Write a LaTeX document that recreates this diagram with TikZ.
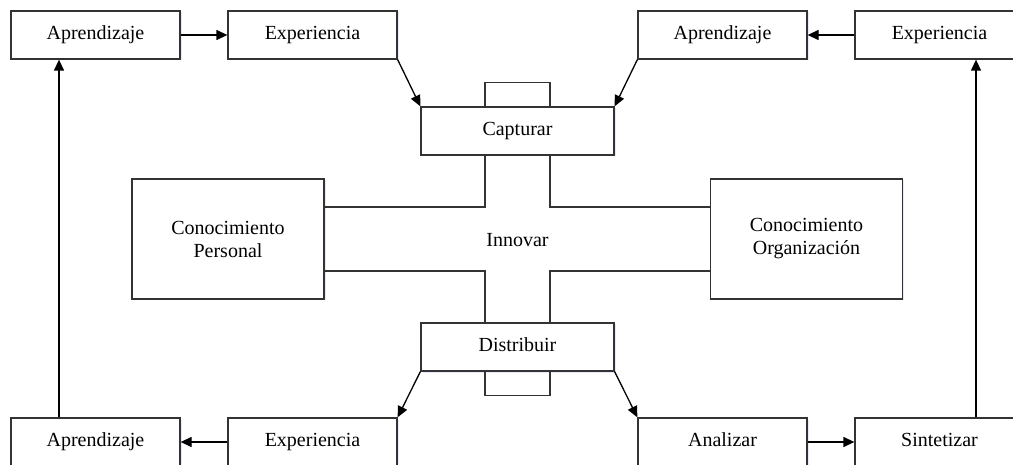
\documentclass[tikz,border=0pt]{standalone}
\usepackage{fontspec}
\setmainfont{Liberation Serif}
\usetikzlibrary{arrows.meta,shadows,calc}
\begin{document}
\begin{tikzpicture}[x=1pt,y=-1pt,
  line width=1.3pt,
  box/.style={draw=black!80, fill=white, inner sep=0pt, align=center,
    font=\fontsize{20}{23}\selectfont,
    drop shadow={shadow xshift=1.5pt, shadow yshift=-1.5pt, fill=blue!25, opacity=0.35}},
  small/.style={box, minimum width=169pt, minimum height=48pt,
    text height=13pt, text depth=4pt},
  wide/.style={box, minimum width=193pt, minimum height=48pt,
    text height=13pt, text depth=4pt},
  big/.style={box, minimum width=192pt, minimum height=120pt},
  flow/.style={-{Triangle[length=11pt,width=10pt]}},
  link/.style={draw=black!80}]
\clip (0,0) rectangle (1013,465);
\fill[white] (0,0) rectangle (1013,465);

% outer ring of boxes
\node[small] (apTL) at (95.5,35)  {Aprendizaje};
\node[small] (exTL) at (312.5,35) {Experiencia};
\node[small] (apTR) at (722.5,35) {Aprendizaje};
\node[small] (exTR) at (939.5,35) {Experiencia};
\node[small] (apBL) at (95.5,442)  {Aprendizaje};
\node[small] (exBL) at (312.5,442) {Experiencia};
\node[small] (anBR) at (722.5,442) {Analizar};
\node[small] (siBR) at (939.5,442) {Sintetizar};

% central cross
\node[wide] (cap) at (517.5,131) {Capturar};
\node[wide] (dis) at (517.5,347) {Distribuir};
\node[big] (per) at (228,239) {Conocimiento\\Personal};
\node[big] (org) at (806.5,239) {Conocimiento\\Organización};
\node[font=\fontsize{20}{23}\selectfont] (inn) at (517.5,240) {Innovar};

% tabs above Capturar and below Distribuir
\draw[link] ($(cap.north)+(-32.5,0)$) -- ++(0,-24) -| ($(cap.north)+(32.5,0)$);
\draw[link] ($(dis.south)+(-32.5,0)$) -- ++(0,24) -| ($(dis.south)+(32.5,0)$);

% arms of the cross
\draw[link] ($(cap.south)+(-32.5,0)$) |- ($(per.east)+(0,-32)$);
\draw[link] ($(cap.south)+(32.5,0)$)  |- ($(org.west)+(0,-32)$);
\draw[link] ($(dis.north)+(-32.5,0)$) |- ($(per.east)+(0,32)$);
\draw[link] ($(dis.north)+(32.5,0)$)  |- ($(org.west)+(0,32)$);

% flows
\draw[flow] (apTL) -- (exTL);
\draw[flow] (exTL.south east) -- (cap.north west);
\draw[flow] (exTR) -- (apTR);
\draw[flow] (apTR.south west) -- (cap.north east);
\draw[flow] (siBR.north -| 976,0) -- (exTR.south -| 976,0);
\draw[flow] (apBL.north -| 59,0) -- (apTL.south -| 59,0);
\draw[flow] (dis.south west) -- (exBL.north east);
\draw[flow] (exBL) -- (apBL);
\draw[flow] (dis.south east) -- (anBR.north west);
\draw[flow] (anBR) -- (siBR);
\end{tikzpicture}
\end{document}
